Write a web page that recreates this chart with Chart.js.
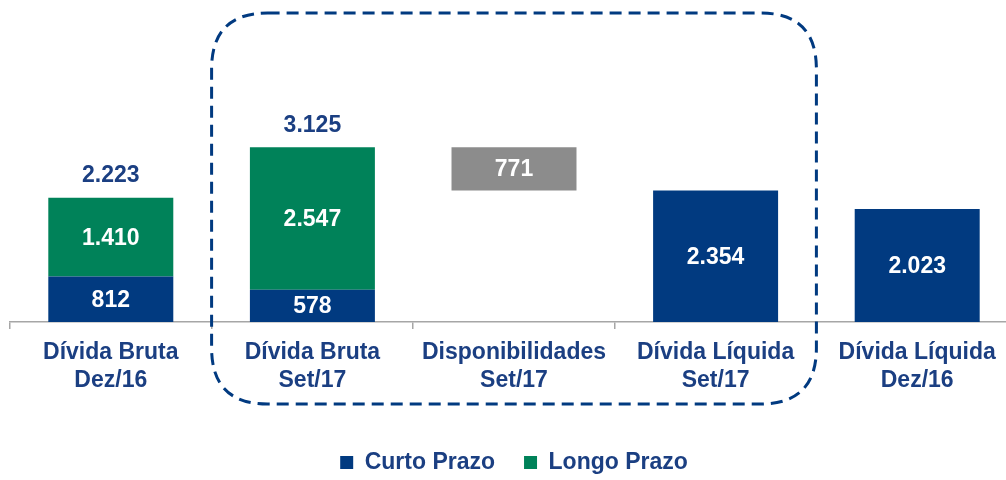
<!DOCTYPE html>
<html lang="pt">
<head>
  <meta charset="utf-8">
  <title>Dívida</title>
  <script src="https://cdn.jsdelivr.net/npm/chart.js@4.4.0/dist/chart.umd.min.js"></script>
  <style>
    html, body { margin: 0; padding: 0; background: #fff; overflow: hidden; }
    #wrap { width: 1018px; height: 480px; }
  </style>
</head>
<body>
<div id="wrap"><canvas id="grafico"></canvas></div>
<script>
// dados
var categorias = [['Dívida Bruta', 'Dez/16'], ['Dívida Bruta', 'Set/17'], ['Disponibilidades', 'Set/17'], ['Dívida Líquida', 'Set/17'], ['Dívida Líquida', 'Dez/16']];
var curtoPrazo = [812, 578, null, 2354, 2023];
var longoPrazo = [1410, 2547, null, null, null];
var disponibilidades = [null, null, 771, null, null];
var totais = [2223, 3125, null, null, null];

var AZUL = '#013a80';
var VERDE = '#008259';
var CINZA = '#8c8c8c';
var TEXTO = '#1b3f82';
var FONTE = '"Liberation Sans", Arial, sans-serif';

function fmt(v) {
  return String(v).replace(/\B(?=(\d{3})+(?!\d))/g, '.');
}

// barras flutuantes montadas a partir dos arrays
var dadosCurto = curtoPrazo.map(function (v) { return v == null ? null : [0, v]; });
var dadosLongo = longoPrazo.map(function (v, i) { return v == null ? null : [curtoPrazo[i], curtoPrazo[i] + v]; });
var dadosDisp = disponibilidades.map(function (v, i) {
  if (v == null) return null;
  var liq = curtoPrazo[i + 1];
  return [liq, liq + v];
});

var rotulos = {
  id: 'rotulos',
  afterDatasetsDraw: function (chart) {
    var ctx = chart.ctx;
    ctx.save();
    ctx.textAlign = 'center';
    ctx.textBaseline = 'middle';
    ctx.font = 'bold 23px ' + FONTE;
    var valores = [curtoPrazo, longoPrazo, disponibilidades];
    chart.data.datasets.forEach(function (ds, d) {
      var meta = chart.getDatasetMeta(d);
      meta.data.forEach(function (el, i) {
        var v = valores[d][i];
        if (v == null) return;
        ctx.fillStyle = '#fff';
        ctx.fillText(fmt(v), el.x, (el.y + el.base) / 2 + 1);
      });
    });
    var metaLongo = chart.getDatasetMeta(1);
    metaLongo.data.forEach(function (el, i) {
      if (totais[i] == null) return;
      ctx.fillStyle = TEXTO;
      ctx.fillText(fmt(totais[i]), el.x, el.y - 22);
    });
    ctx.restore();
  }
};

var moldura = {
  id: 'moldura',
  afterDraw: function (chart) {
    var x = chart.scales.x;
    var ctx = chart.ctx;
    var passo = x.getPixelForValue(2) - x.getPixelForValue(1);
    var x0 = x.getPixelForValue(1) - passo / 2;
    var x1 = x.getPixelForValue(3) + passo / 2;
    var y0 = 13, y1 = 404, r = 56;
    ctx.save();
    ctx.strokeStyle = AZUL;
    ctx.lineWidth = 3;
    ctx.setLineDash([12, 7]);
    ctx.beginPath();
    ctx.moveTo(x0 + r, y0);
    ctx.lineTo(x1 - r, y0);
    ctx.quadraticCurveTo(x1, y0, x1, y0 + r);
    ctx.lineTo(x1, y1 - r);
    ctx.quadraticCurveTo(x1, y1, x1 - r, y1);
    ctx.lineTo(x0 + r, y1);
    ctx.quadraticCurveTo(x0, y1, x0, y1 - r);
    ctx.lineTo(x0, y0 + r);
    ctx.quadraticCurveTo(x0, y0, x0 + r, y0);
    ctx.stroke();
    ctx.restore();
  }
};

new Chart(document.getElementById('grafico'), {
  type: 'bar',
  data: {
    labels: categorias,
    datasets: [
      { label: 'Curto Prazo', data: dadosCurto, backgroundColor: AZUL },
      { label: 'Longo Prazo', data: dadosLongo, backgroundColor: VERDE },
      { label: 'Disponibilidades', data: dadosDisp, backgroundColor: CINZA }
    ]
  },
  options: {
    responsive: true,
    maintainAspectRatio: false,
    animation: false,
    grouped: false,
    categoryPercentage: 0.62,
    barPercentage: 1,
    layout: { padding: { left: 10, right: 0, top: 0, bottom: -4 } },
    plugins: {
      tooltip: { enabled: false },
      legend: {
        position: 'bottom',
        labels: {
          color: TEXTO,
          font: { family: FONTE, size: 23, weight: 'bold' },
          boxWidth: 13,
          boxHeight: 13,
          padding: 6,
          filter: function (item) { return item.datasetIndex < 2; },
          generateLabels: function (chart) {
            var itens = Chart.defaults.plugins.legend.labels.generateLabels(chart);
            // espaço extra entre as duas entradas da legenda
            if (itens[0]) itens[0].text = itens[0].text + '\u2003';
            return itens;
          }
        }
      }
    },
    scales: {
      x: {
        offset: true,
        afterFit: function (scale) { scale.height = 123; },
        grid: { offset: true, drawOnChartArea: false, color: '#a6a6a6', tickLength: 7, lineWidth: 1.5 },
        border: { color: '#a6a6a6', width: 1.5 },
        ticks: {
          color: TEXTO,
          font: { family: FONTE, size: 23, weight: 'bold', lineHeight: 1.25 },
          padding: 9,
          maxRotation: 0,
          autoSkip: false
        }
      },
      y: {
        display: false,
        min: 0,
        max: 5760
      }
    }
  },
  plugins: [rotulos, moldura]
});
</script>
</body>
</html>
